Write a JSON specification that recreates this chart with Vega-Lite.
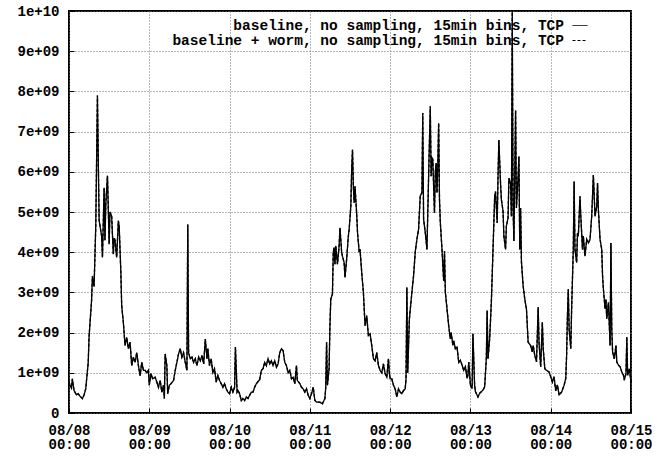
{
  "$schema": "https://vega.github.io/schema/vega-lite/v6.json",
  "width": 562,
  "height": 402,
  "autosize": {"type": "none"},
  "padding": {"left": 69, "top": 11, "right": 29, "bottom": 44},
  "background": "white",
  "config": {
    "view": {"stroke": "black", "strokeWidth": 2},
    "font": "Liberation Mono"
  },
  "data": {
    "values": [
      {"hours": 0, "bytes": 0.8e9}, {"hours": 0.25, "bytes": 0.7e9}, {"hours": 0.75, "bytes": 0.62e9}, {"hours": 1, "bytes": 0.85e9},
      {"hours": 1.5, "bytes": 0.56e9}, {"hours": 2.25, "bytes": 0.45e9}, {"hours": 2.75, "bytes": 0.48e9}, {"hours": 3.25, "bytes": 0.42e9},
      {"hours": 3.75, "bytes": 0.38e9}, {"hours": 4, "bytes": 0.36e9}, {"hours": 4.5, "bytes": 0.45e9}, {"hours": 5, "bytes": 0.6e9},
      {"hours": 5.75, "bytes": 1.26e9}, {"hours": 6, "bytes": 1.9e9}, {"hours": 6.75, "bytes": 2.8e9}, {"hours": 7, "bytes": 3.4e9},
      {"hours": 7.5, "bytes": 3.15e9}, {"hours": 8, "bytes": 4.65e9}, {"hours": 8.5, "bytes": 7.9e9}, {"hours": 8.75, "bytes": 6.3e9},
      {"hours": 9, "bytes": 4.8e9}, {"hours": 9.75, "bytes": 4.4e9}, {"hours": 10, "bytes": 3.87e9}, {"hours": 10.5, "bytes": 5.6e9},
      {"hours": 10.75, "bytes": 4.3e9}, {"hours": 11, "bytes": 5.2e9}, {"hours": 11.5, "bytes": 5.9e9}, {"hours": 12, "bytes": 4.2e9},
      {"hours": 12.25, "bytes": 5.0e9}, {"hours": 12.75, "bytes": 4.9e9}, {"hours": 13.25, "bytes": 3.95e9}, {"hours": 13.5, "bytes": 4.35e9},
      {"hours": 13.75, "bytes": 4.3e9}, {"hours": 14.25, "bytes": 3.87e9}, {"hours": 14.75, "bytes": 4.78e9}, {"hours": 15, "bytes": 4.65e9},
      {"hours": 15.5, "bytes": 3.5e9}, {"hours": 15.75, "bytes": 2.67e9}, {"hours": 16.25, "bytes": 2.25e9}, {"hours": 16.75, "bytes": 1.68e9},
      {"hours": 17.25, "bytes": 1.88e9}, {"hours": 17.75, "bytes": 1.6e9}, {"hours": 18.25, "bytes": 1.76e9}, {"hours": 18.75, "bytes": 1.18e9},
      {"hours": 19.25, "bytes": 1.39e9}, {"hours": 19.75, "bytes": 1.26e9}, {"hours": 20.25, "bytes": 1.5e9}, {"hours": 20.75, "bytes": 1.18e9},
      {"hours": 21.25, "bytes": 0.93e9}, {"hours": 21.75, "bytes": 1.26e9}, {"hours": 22.25, "bytes": 1.06e9}, {"hours": 22.75, "bytes": 1.06e9},
      {"hours": 23.25, "bytes": 1.0e9}, {"hours": 23.75, "bytes": 1.06e9},
      {"hours": 24, "bytes": 0.69e9}, {"hours": 24.5, "bytes": 0.98e9}, {"hours": 25, "bytes": 0.85e9}, {"hours": 25.75, "bytes": 0.89e9},
      {"hours": 26.25, "bytes": 0.77e9}, {"hours": 26.75, "bytes": 0.64e9}, {"hours": 27.25, "bytes": 0.81e9}, {"hours": 27.75, "bytes": 0.52e9},
      {"hours": 28.25, "bytes": 0.69e9}, {"hours": 28.5, "bytes": 0.36e9}, {"hours": 28.75, "bytes": 1.47e9}, {"hours": 29.25, "bytes": 1.18e9},
      {"hours": 29.5, "bytes": 0.48e9}, {"hours": 30, "bytes": 0.69e9}, {"hours": 30.5, "bytes": 0.73e9}, {"hours": 31.25, "bytes": 0.81e9},
      {"hours": 31.75, "bytes": 1.06e9}, {"hours": 32.25, "bytes": 1.26e9}, {"hours": 32.75, "bytes": 1.47e9}, {"hours": 33.25, "bytes": 1.6e9},
      {"hours": 33.75, "bytes": 1.39e9}, {"hours": 34.25, "bytes": 1.5e9}, {"hours": 34.75, "bytes": 1.26e9}, {"hours": 35.25, "bytes": 1.06e9},
      {"hours": 35.5, "bytes": 4.69e9}, {"hours": 35.75, "bytes": 1.5e9}, {"hours": 36.25, "bytes": 1.35e9}, {"hours": 36.75, "bytes": 1.39e9},
      {"hours": 37.25, "bytes": 1.26e9}, {"hours": 37.75, "bytes": 1.35e9}, {"hours": 38.25, "bytes": 1.18e9}, {"hours": 38.75, "bytes": 1.39e9},
      {"hours": 39.25, "bytes": 1.3e9}, {"hours": 39.75, "bytes": 1.43e9}, {"hours": 40.25, "bytes": 1.22e9}, {"hours": 40.75, "bytes": 1.84e9},
      {"hours": 41.25, "bytes": 1.35e9}, {"hours": 41.5, "bytes": 1.6e9}, {"hours": 42, "bytes": 1.18e9}, {"hours": 42.5, "bytes": 1.35e9},
      {"hours": 43, "bytes": 1.0e9}, {"hours": 43.5, "bytes": 1.1e9}, {"hours": 44, "bytes": 0.77e9}, {"hours": 44.5, "bytes": 0.93e9},
      {"hours": 45, "bytes": 0.81e9}, {"hours": 45.5, "bytes": 0.73e9}, {"hours": 46, "bytes": 0.64e9}, {"hours": 46.5, "bytes": 0.73e9},
      {"hours": 47, "bytes": 0.6e9}, {"hours": 47.5, "bytes": 0.52e9},
      {"hours": 48, "bytes": 0.48e9}, {"hours": 48.5, "bytes": 0.64e9}, {"hours": 49, "bytes": 0.52e9}, {"hours": 49.5, "bytes": 0.64e9},
      {"hours": 49.75, "bytes": 1.64e9}, {"hours": 50.25, "bytes": 0.52e9}, {"hours": 50.5, "bytes": 0.56e9}, {"hours": 51, "bytes": 0.48e9},
      {"hours": 51.5, "bytes": 0.31e9}, {"hours": 52, "bytes": 0.36e9}, {"hours": 52.5, "bytes": 0.31e9}, {"hours": 53, "bytes": 0.4e9},
      {"hours": 53.5, "bytes": 0.36e9}, {"hours": 54, "bytes": 0.44e9}, {"hours": 54.5, "bytes": 0.52e9}, {"hours": 55, "bytes": 0.52e9},
      {"hours": 55.5, "bytes": 0.64e9}, {"hours": 56, "bytes": 0.73e9}, {"hours": 57, "bytes": 0.83e9}, {"hours": 57.5, "bytes": 1.06e9},
      {"hours": 58, "bytes": 1.1e9}, {"hours": 58.5, "bytes": 1.26e9}, {"hours": 59, "bytes": 1.18e9}, {"hours": 59.5, "bytes": 1.35e9},
      {"hours": 60, "bytes": 1.22e9}, {"hours": 60.5, "bytes": 1.3e9}, {"hours": 61, "bytes": 1.18e9}, {"hours": 61.5, "bytes": 1.3e9},
      {"hours": 62, "bytes": 1.14e9}, {"hours": 62.5, "bytes": 1.22e9}, {"hours": 63, "bytes": 1.5e9}, {"hours": 63.5, "bytes": 1.6e9},
      {"hours": 64, "bytes": 1.55e9}, {"hours": 64.5, "bytes": 1.26e9}, {"hours": 65, "bytes": 1.18e9}, {"hours": 65.5, "bytes": 1.0e9},
      {"hours": 66, "bytes": 1.06e9}, {"hours": 66.5, "bytes": 0.85e9}, {"hours": 67, "bytes": 0.89e9}, {"hours": 67.5, "bytes": 0.73e9},
      {"hours": 68, "bytes": 1.18e9}, {"hours": 68.25, "bytes": 0.81e9}, {"hours": 69, "bytes": 0.73e9}, {"hours": 69.5, "bytes": 0.64e9},
      {"hours": 70, "bytes": 0.6e9}, {"hours": 70.5, "bytes": 0.52e9}, {"hours": 71, "bytes": 0.6e9}, {"hours": 71.5, "bytes": 0.44e9},
      {"hours": 72, "bytes": 0.36e9}, {"hours": 72.5, "bytes": 0.48e9}, {"hours": 73, "bytes": 0.64e9}, {"hours": 73.5, "bytes": 0.31e9},
      {"hours": 74, "bytes": 0.27e9}, {"hours": 75, "bytes": 0.27e9}, {"hours": 75.75, "bytes": 0.23e9}, {"hours": 76.5, "bytes": 0.36e9},
      {"hours": 76.75, "bytes": 0.64e9}, {"hours": 77, "bytes": 1.76e9}, {"hours": 77.25, "bytes": 0.69e9}, {"hours": 77.75, "bytes": 1.1e9},
      {"hours": 78, "bytes": 2.17e9}, {"hours": 78.25, "bytes": 2.83e9}, {"hours": 78.75, "bytes": 2.96e9}, {"hours": 79, "bytes": 4.0e9},
      {"hours": 79.25, "bytes": 4.12e9}, {"hours": 79.5, "bytes": 3.7e9}, {"hours": 79.75, "bytes": 4.16e9}, {"hours": 80.25, "bytes": 3.7e9},
      {"hours": 80.75, "bytes": 4.16e9}, {"hours": 81, "bytes": 4.61e9}, {"hours": 81.5, "bytes": 4.0e9}, {"hours": 81.75, "bytes": 3.9e9},
      {"hours": 82.25, "bytes": 3.74e9}, {"hours": 82.5, "bytes": 3.37e9}, {"hours": 83, "bytes": 3.83e9}, {"hours": 83.5, "bytes": 4.4e9},
      {"hours": 83.75, "bytes": 4.57e9}, {"hours": 84.25, "bytes": 5.15e9}, {"hours": 84.5, "bytes": 6.06e9}, {"hours": 84.75, "bytes": 6.55e9},
      {"hours": 85, "bytes": 5.64e9}, {"hours": 85.25, "bytes": 5.23e9}, {"hours": 85.5, "bytes": 5.64e9}, {"hours": 86, "bytes": 4.94e9},
      {"hours": 86.25, "bytes": 4.49e9}, {"hours": 86.75, "bytes": 4.0e9}, {"hours": 87, "bytes": 4.07e9}, {"hours": 87.5, "bytes": 3.5e9},
      {"hours": 88, "bytes": 3.0e9}, {"hours": 88.5, "bytes": 2.17e9}, {"hours": 89, "bytes": 2.42e9}, {"hours": 89.5, "bytes": 1.93e9},
      {"hours": 90, "bytes": 1.97e9}, {"hours": 90.5, "bytes": 1.68e9}, {"hours": 91, "bytes": 1.35e9}, {"hours": 91.5, "bytes": 1.3e9},
      {"hours": 92, "bytes": 1.5e9}, {"hours": 92.5, "bytes": 1.18e9}, {"hours": 93, "bytes": 1.06e9}, {"hours": 93.5, "bytes": 1.0e9},
      {"hours": 94, "bytes": 1.22e9}, {"hours": 94.5, "bytes": 0.98e9}, {"hours": 95, "bytes": 0.89e9}, {"hours": 95.5, "bytes": 1.35e9},
      {"hours": 95.75, "bytes": 1.0e9},
      {"hours": 96, "bytes": 0.85e9}, {"hours": 96.5, "bytes": 0.85e9}, {"hours": 97, "bytes": 0.69e9}, {"hours": 97.5, "bytes": 0.6e9},
      {"hours": 98, "bytes": 0.4e9}, {"hours": 98.5, "bytes": 0.6e9}, {"hours": 99, "bytes": 0.52e9}, {"hours": 99.5, "bytes": 0.48e9},
      {"hours": 100, "bytes": 0.56e9}, {"hours": 100.5, "bytes": 0.6e9}, {"hours": 100.75, "bytes": 0.85e9}, {"hours": 101, "bytes": 3.12e9},
      {"hours": 101.25, "bytes": 1.0e9}, {"hours": 101.75, "bytes": 2.34e9}, {"hours": 102.5, "bytes": 3.0e9}, {"hours": 103, "bytes": 3.41e9},
      {"hours": 103.5, "bytes": 4.0e9}, {"hours": 104, "bytes": 4.32e9}, {"hours": 104.5, "bytes": 4.57e9}, {"hours": 105, "bytes": 5.4e9},
      {"hours": 105.5, "bytes": 5.48e9}, {"hours": 105.75, "bytes": 7.46e9}, {"hours": 106, "bytes": 4.82e9}, {"hours": 106.5, "bytes": 4.49e9},
      {"hours": 107, "bytes": 4.07e9}, {"hours": 107.5, "bytes": 5.89e9}, {"hours": 108, "bytes": 7.63e9}, {"hours": 108.25, "bytes": 5.89e9},
      {"hours": 108.5, "bytes": 6.35e9}, {"hours": 108.75, "bytes": 6.31e9}, {"hours": 109.25, "bytes": 4.98e9}, {"hours": 109.5, "bytes": 5.98e9},
      {"hours": 109.75, "bytes": 6.22e9}, {"hours": 110, "bytes": 5.48e9}, {"hours": 110.25, "bytes": 6.14e9}, {"hours": 110.5, "bytes": 7.21e9},
      {"hours": 110.75, "bytes": 5.31e9}, {"hours": 111, "bytes": 4.74e9}, {"hours": 111.5, "bytes": 4.07e9}, {"hours": 112, "bytes": 3.29e9},
      {"hours": 112.25, "bytes": 4.03e9}, {"hours": 112.5, "bytes": 3.0e9}, {"hours": 113, "bytes": 2.59e9}, {"hours": 113.5, "bytes": 2.17e9},
      {"hours": 114, "bytes": 1.84e9}, {"hours": 114.25, "bytes": 2.0e9}, {"hours": 114.75, "bytes": 1.68e9}, {"hours": 115, "bytes": 1.8e9},
      {"hours": 115.5, "bytes": 1.6e9}, {"hours": 116, "bytes": 1.64e9}, {"hours": 116.5, "bytes": 1.26e9}, {"hours": 117, "bytes": 1.31e9},
      {"hours": 117.5, "bytes": 1.19e9}, {"hours": 118, "bytes": 1.06e9}, {"hours": 118.5, "bytes": 1.15e9}, {"hours": 119, "bytes": 0.86e9},
      {"hours": 119.25, "bytes": 0.94e9}, {"hours": 119.5, "bytes": 1.27e9},
      {"hours": 120, "bytes": 0.69e9}, {"hours": 120.5, "bytes": 0.61e9}, {"hours": 120.75, "bytes": 1.97e9}, {"hours": 121.25, "bytes": 0.69e9},
      {"hours": 121.5, "bytes": 0.53e9}, {"hours": 122.25, "bytes": 0.4e9}, {"hours": 122.75, "bytes": 0.49e9}, {"hours": 123.25, "bytes": 0.53e9},
      {"hours": 123.75, "bytes": 0.57e9}, {"hours": 124.25, "bytes": 0.65e9}, {"hours": 124.75, "bytes": 1.35e9}, {"hours": 125, "bytes": 2.55e9},
      {"hours": 125.25, "bytes": 1.35e9}, {"hours": 125.75, "bytes": 1.85e9}, {"hours": 126.25, "bytes": 2.75e9}, {"hours": 126.75, "bytes": 4.07e9},
      {"hours": 127.25, "bytes": 5.39e9}, {"hours": 127.5, "bytes": 5.51e9}, {"hours": 128, "bytes": 4.73e9}, {"hours": 128.25, "bytes": 5.88e9},
      {"hours": 128.5, "bytes": 6.79e9}, {"hours": 129, "bytes": 5.72e9}, {"hours": 129.25, "bytes": 5.31e9}, {"hours": 129.75, "bytes": 5.02e9},
      {"hours": 130, "bytes": 4.4e9}, {"hours": 130.5, "bytes": 4.07e9}, {"hours": 130.75, "bytes": 4.65e9}, {"hours": 131.25, "bytes": 4.85e9},
      {"hours": 131.5, "bytes": 5.84e9}, {"hours": 132, "bytes": 5.72e9}, {"hours": 132.25, "bytes": 4.89e9}, {"hours": 132.5, "bytes": 9.98e9},
      {"hours": 132.75, "bytes": 5.1e9}, {"hours": 133, "bytes": 4.28e9}, {"hours": 133.5, "bytes": 7.53e9}, {"hours": 133.75, "bytes": 5.1e9},
      {"hours": 134.25, "bytes": 5.88e9}, {"hours": 134.5, "bytes": 6.38e9}, {"hours": 134.75, "bytes": 4.07e9}, {"hours": 135, "bytes": 5.1e9},
      {"hours": 135.25, "bytes": 3.76e9}, {"hours": 135.75, "bytes": 3.17e9}, {"hours": 136.25, "bytes": 2.83e9}, {"hours": 136.75, "bytes": 2.59e9},
      {"hours": 137.25, "bytes": 1.76e9}, {"hours": 138, "bytes": 1.68e9}, {"hours": 138.5, "bytes": 1.52e9}, {"hours": 138.75, "bytes": 1.68e9},
      {"hours": 139.25, "bytes": 1.43e9}, {"hours": 139.75, "bytes": 1.27e9}, {"hours": 140.25, "bytes": 2.63e9}, {"hours": 140.5, "bytes": 1.76e9},
      {"hours": 141, "bytes": 1.15e9}, {"hours": 141.5, "bytes": 2.26e9}, {"hours": 141.75, "bytes": 1.6e9}, {"hours": 142.25, "bytes": 1.1e9},
      {"hours": 142.75, "bytes": 1.06e9}, {"hours": 143.5, "bytes": 1.02e9},
      {"hours": 144, "bytes": 0.9e9}, {"hours": 144.5, "bytes": 0.77e9}, {"hours": 145, "bytes": 0.9e9}, {"hours": 145.5, "bytes": 0.55e9},
      {"hours": 146, "bytes": 0.7e9}, {"hours": 146.5, "bytes": 0.45e9}, {"hours": 147.25, "bytes": 0.52e9}, {"hours": 148, "bytes": 0.69e9},
      {"hours": 148.5, "bytes": 0.86e9}, {"hours": 148.75, "bytes": 1.43e9}, {"hours": 149, "bytes": 2.42e9}, {"hours": 149.25, "bytes": 3.08e9},
      {"hours": 149.5, "bytes": 2.09e9}, {"hours": 150, "bytes": 1.6e9}, {"hours": 150.25, "bytes": 2.59e9}, {"hours": 150.75, "bytes": 4.07e9},
      {"hours": 151, "bytes": 5.76e9}, {"hours": 151.25, "bytes": 4.07e9}, {"hours": 151.75, "bytes": 3.74e9}, {"hours": 152, "bytes": 4.48e9},
      {"hours": 152.25, "bytes": 4.4e9}, {"hours": 152.75, "bytes": 5.39e9}, {"hours": 153, "bytes": 4.89e9}, {"hours": 153.5, "bytes": 4.07e9},
      {"hours": 153.75, "bytes": 4.4e9}, {"hours": 154.25, "bytes": 3.9e9}, {"hours": 154.75, "bytes": 4.32e9}, {"hours": 155.25, "bytes": 4.23e9},
      {"hours": 155.75, "bytes": 4.32e9}, {"hours": 156.25, "bytes": 4.89e9}, {"hours": 156.5, "bytes": 5.39e9}, {"hours": 156.75, "bytes": 5.92e9},
      {"hours": 157.25, "bytes": 4.89e9}, {"hours": 157.75, "bytes": 5.14e9}, {"hours": 158, "bytes": 5.72e9}, {"hours": 158.25, "bytes": 5.06e9},
      {"hours": 158.75, "bytes": 4.32e9}, {"hours": 159.25, "bytes": 4.07e9}, {"hours": 159.5, "bytes": 3.41e9}, {"hours": 159.75, "bytes": 3.08e9},
      {"hours": 160.25, "bytes": 2.59e9}, {"hours": 160.5, "bytes": 2.83e9}, {"hours": 160.75, "bytes": 2.34e9}, {"hours": 161.25, "bytes": 2.75e9},
      {"hours": 161.75, "bytes": 1.68e9}, {"hours": 162, "bytes": 4.23e9}, {"hours": 162.25, "bytes": 2.09e9}, {"hours": 162.5, "bytes": 1.52e9},
      {"hours": 163, "bytes": 1.35e9}, {"hours": 163.5, "bytes": 1.68e9}, {"hours": 163.75, "bytes": 1.27e9}, {"hours": 164.25, "bytes": 1.19e9},
      {"hours": 164.75, "bytes": 1.15e9}, {"hours": 165.25, "bytes": 1.02e9}, {"hours": 165.75, "bytes": 0.94e9}, {"hours": 166, "bytes": 0.82e9},
      {"hours": 166.5, "bytes": 0.98e9}, {"hours": 166.75, "bytes": 1.89e9}, {"hours": 167, "bytes": 0.94e9}, {"hours": 167.5, "bytes": 1.1e9},
      {"hours": 168, "bytes": 0.77e9}
    ]
  },
  "encoding": {
    "x": {
      "field": "hours", "type": "quantitative",
      "scale": {"domain": [0, 168], "nice": false, "zero": false},
      "axis": {
        "title": null, "domain": false,
        "values": [0, 24, 48, 72, 96, 120, 144, 168],
        "tickColor": "black", "tickWidth": 1, "tickSize": -5,
        "grid": true, "gridColor": "#707070", "gridDash": [1, 2], "gridWidth": 1,
        "labelExpr": "['08/' + format(8 + datum.value / 24, '02d'), '00:00']",
        "labelFont": "Liberation Mono", "labelFontWeight": "bold", "labelFontSize": 14,
        "labelColor": "black", "labelLineHeight": 14, "labelPadding": 15,
        "labelFlush": false, "labelOverlap": false, "labelBound": false
      }
    },
    "y": {
      "field": "bytes", "type": "quantitative",
      "scale": {"domain": [0, 1e10], "nice": false},
      "axis": {
        "title": null, "domain": false,
        "values": [0, 1e9, 2e9, 3e9, 4e9, 5e9, 6e9, 7e9, 8e9, 9e9, 1e10],
        "tickColor": "black", "tickWidth": 1, "tickSize": -5,
        "grid": true, "gridColor": "#707070", "gridDash": [1, 2], "gridWidth": 1,
        "labelExpr": "datum.value == 0 ? '0' : datum.value >= 1e10 ? '1e+10' : replace(format(datum.value, '.0e'), 'e+', 'e+0')",
        "labelFont": "Liberation Mono", "labelFontWeight": "bold", "labelFontSize": 14,
        "labelColor": "black", "labelPadding": 15, "labelFlush": false, "labelOverlap": false, "labelBound": false
      }
    }
  },
  "layer": [
    {
      "mark": {"type": "line", "color": "black", "strokeWidth": 1.3},
      "encoding": {
        "strokeDash": {
          "datum": "baseline, no sampling, 15min bins, TCP", "type": "nominal",
          "scale": {"domain": ["baseline, no sampling, 15min bins, TCP", "baseline + worm, no sampling, 15min bins, TCP"], "range": [[1, 0], [3, 2]]},
          "legend": {
            "orient": "none", "legendX": 503, "legendY": 6.5, "title": null, "padding": 0,
            "symbolType": "stroke", "symbolSize": 225, "symbolStrokeColor": "black", "symbolStrokeWidth": 1,
            "rowPadding": 0,
            "labelFont": "Liberation Mono", "labelFontWeight": "bold", "labelFontSize": 14.5,
            "labelColor": "black", "labelAlign": "right", "labelOffset": -24, "labelLimit": 500
          }
        }
      }
    },
    {
      "mark": {"type": "line", "color": "black", "strokeWidth": 1.3},
      "encoding": {
        "strokeDash": {"datum": "baseline + worm, no sampling, 15min bins, TCP", "type": "nominal"}
      }
    }
  ]
}
